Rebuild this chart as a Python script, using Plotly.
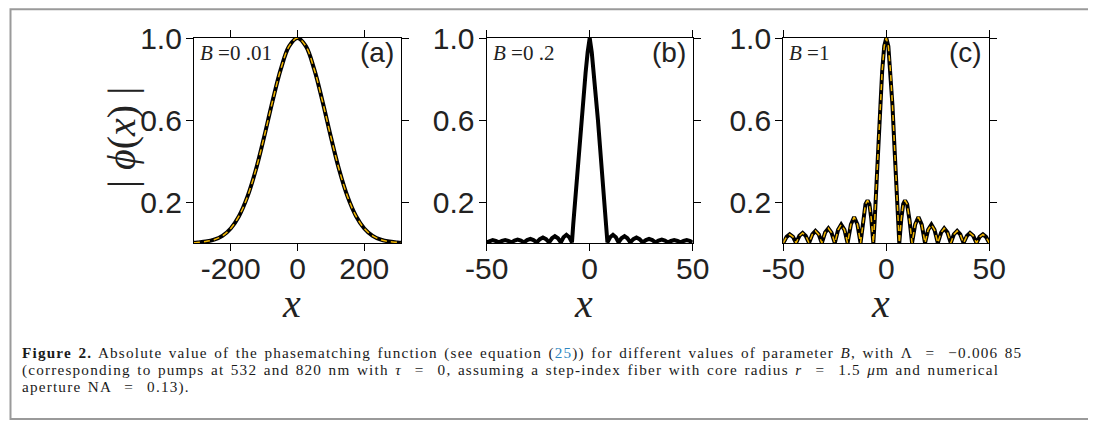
import plotly.graph_objects as go

# ---------------- data ----------------
# panel (a): B = 0.01
xa = [-310, -300, -275, -250, -225, -200, -175, -150, -125, -100, -75, -50, -25, 0,
      25, 50, 75, 100, 125, 150, 175, 200, 225, 250, 275, 300, 310]
ya = [0.001, 0.003, 0.007, 0.016, 0.035, 0.071, 0.132, 0.226, 0.356, 0.517, 0.690, 0.848, 0.960, 1.0,
      0.960, 0.848, 0.690, 0.517, 0.356, 0.226, 0.132, 0.071, 0.035, 0.016, 0.007, 0.003, 0.001]

# panel (b): B = 0.2
xb = [-50, -48.5, -47.1, -45.6, -44.1, -42.6, -41, -39.5, -38, -36.5, -35, -33.4, -31.9,
      -30.4, -28.8, -27.3, -25.7, -24.2, -22.7, -21.2, -19.7, -18.3, -16.9, -15.4, -14,
      -12.7, -11.3, -9.9, -8.6, -8, -7, -6, -5, -4, -3, -2, -1, 0,
      1, 2, 3, 4, 5, 6, 7, 8, 8.6, 9.9, 11.3, 12.7, 14, 15.4, 16.9, 18.3, 19.7,
      21.2, 22.7, 24.2, 25.7, 27.3, 28.8, 30.4, 31.9, 33.4, 35, 36.5, 38,
      39.5, 41, 42.6, 44.1, 45.6, 47.1, 48.5, 50]
yb = [0.003, 0.010, 0.014, 0.010, 0.003, 0.010, 0.014, 0.010, 0.003, 0.012, 0.017, 0.012, 0.003,
      0.014, 0.020, 0.014, 0.003, 0.019, 0.027, 0.019, 0.003, 0.023, 0.033, 0.023, 0.003,
      0.028, 0.040, 0.028, 0.003, 0.09, 0.22, 0.35, 0.47, 0.60, 0.72, 0.83, 0.93, 1.0,
      0.93, 0.83, 0.72, 0.60, 0.47, 0.35, 0.22, 0.09, 0.003, 0.028, 0.040, 0.028, 0.003, 0.023, 0.033, 0.023, 0.003,
      0.019, 0.027, 0.019, 0.003, 0.014, 0.020, 0.014, 0.003, 0.012, 0.017, 0.012, 0.003,
      0.010, 0.014, 0.010, 0.003, 0.010, 0.014, 0.010, 0.003]

# panel (c): B = 1
xc = [-50, -48.4, -46.9, -45.3, -43.8, -42.2, -40.6, -39.1, -37.5, -35.9, -34.4, -32.8, -31.3,
      -29.7, -28.1, -26.6, -25.0, -23.4, -21.9, -20.3, -18.8, -17.2, -15.6, -14.0, -12.5,
      -11.3, -10.1, -9.1, -8.2, -7.3, -6.3, -5.7, -5, -4, -3, -2, -1, 0,
      1, 2, 3, 4, 5, 5.7, 6.3, 7.3, 8.2, 9.1, 10.1, 11.3, 12.5,
      14.0, 15.6, 17.2, 18.8, 20.3, 21.9, 23.4, 25.0, 26.6, 28.1, 29.7, 31.3,
      32.8, 34.4, 35.9, 37.5, 39.1, 40.6, 42.2, 43.8, 45.3, 46.9, 48.4, 50]
yc = [0.0, 0.030, 0.042, 0.030, 0.0, 0.035, 0.049, 0.035, 0.0, 0.042, 0.059, 0.042, 0.0,
      0.051, 0.072, 0.051, 0.0, 0.064, 0.090, 0.064, 0.0, 0.090, 0.127, 0.090, 0.0,
      0.11, 0.19, 0.208, 0.19, 0.12, 0.0, 0.10, 0.24, 0.46, 0.67, 0.84, 0.96, 1.0,
      0.96, 0.84, 0.67, 0.46, 0.24, 0.10, 0.0, 0.12, 0.19, 0.208, 0.19, 0.11, 0.0,
      0.090, 0.127, 0.090, 0.0, 0.064, 0.090, 0.064, 0.0, 0.051, 0.072, 0.051, 0.0,
      0.042, 0.059, 0.042, 0.0, 0.035, 0.049, 0.035, 0.0, 0.030, 0.042, 0.030, 0.0]

b_labels = ["<i>B</i> =0 .01", "<i>B</i> =0 .2", "<i>B</i> =1"]
panel_tags = ["(a)", "(b)", "(c)"]
xa_ticks = [-200, 0, 200]
xbc_ticks = [-50, 0, 50]
y_ticks = [0.2, 0.6, 1.0]

# ---------------- layout helpers ----------------
# the page body has an 8px margin on every side; the figure is sized so the page
# does not overflow the window, and positions below are given in window pixels
OFF = 8
W, H = 1096 - 2 * OFF, 428 - 2 * OFF
def px(x):
    return (x - OFF) / W
def py(y):
    return 1 - (y - OFF) / H

BLACK = "#000000"
GOLD = "#f2b600"
TXT = "#222222"

fig = go.Figure()

panels = [
    dict(x=xa, y=ya, gold=True, dom=(194, 401), rng=[-310, 310], ticks=xa_ticks, shape="spline"),
    dict(x=xb, y=yb, gold=False, dom=(486.7, 692.7), rng=[-50, 50], ticks=xbc_ticks, shape="linear"),
    dict(x=xc, y=yc, gold=True, dom=(783.3, 989.3), rng=[-50, 50], ticks=xbc_ticks, shape="linear"),
]
ytop, ybot = 38, 243

layout = dict(
    template="none",
    width=W, height=H, autosize=False,
    margin=dict(l=0, r=0, t=0, b=0, pad=0),
    paper_bgcolor="white", plot_bgcolor="white",
    showlegend=False,
)

annotations = []
for i, p in enumerate(panels):
    sfx = "" if i == 0 else str(i + 1)
    xr = "x" + sfx
    yr = "y" + sfx
    fig.add_trace(go.Scatter(x=p["x"], y=p["y"], mode="lines",
                             line=dict(color=BLACK, width=4, shape=p["shape"]),
                             xaxis=xr, yaxis=yr, hoverinfo="skip"))
    if p["gold"]:
        fig.add_trace(go.Scatter(x=p["x"], y=p["y"], mode="lines",
                                 line=dict(color=GOLD, width=1.5, dash="6px,4px", shape=p["shape"]),
                                 xaxis=xr, yaxis=yr, hoverinfo="skip"))
    axcommon = dict(showline=True, linecolor=BLACK, linewidth=1.3, mirror="ticks",
                    ticks="outside", ticklen=7, tickwidth=1.3, tickcolor=BLACK,
                    showgrid=False, zeroline=False, automargin=False,
                    tickfont=dict(family="Liberation Sans, Arial, sans-serif", size=30, color=TXT))
    layout["xaxis" + sfx] = dict(domain=[px(p["dom"][0]), px(p["dom"][1])],
                                 range=p["rng"], anchor=yr,
                                 tickmode="array", tickvals=p["ticks"],
                                 ticktext=[str(t) for t in p["ticks"]],
                                 ticklabelstandoff=-8,
                                 **axcommon)
    layout["yaxis" + sfx] = dict(domain=[py(ybot), py(ytop)], range=[0, 1.0], anchor=xr,
                                 tickmode="array", tickvals=y_ticks,
                                 ticktext=["0.2", "0.6", "1.0"],
                                 ticklabelstandoff=-2, **axcommon)
    # B label
    annotations.append(dict(x=px(p["dom"][0] + 4), y=py(53), xref="paper", yref="paper",
                            xanchor="left", yanchor="middle", showarrow=False,
                            text=b_labels[i],
                            font=dict(family="Liberation Serif, serif", size=21, color=TXT)))
    # panel tag
    annotations.append(dict(x=px(p["dom"][1] - 5), y=py(53), xref="paper", yref="paper",
                            xanchor="right", yanchor="middle", showarrow=False,
                            text=panel_tags[i],
                            font=dict(family="Liberation Sans, Arial, sans-serif", size=28, color=TXT)))
    # x title
    cx = (p["dom"][0] + p["dom"][1]) / 2 - 6
    annotations.append(dict(x=px(cx), y=py(303), xref="paper", yref="paper",
                            xanchor="center", yanchor="middle", showarrow=False,
                            text="<i>x</i>",
                            font=dict(family="Liberation Serif, serif", size=40, color=TXT)))

# y title
annotations.append(dict(x=px(121), y=py(138), xref="paper", yref="paper",
                        xanchor="center", yanchor="middle", showarrow=False, textangle=-90,
                        text="| <i>ϕ</i>(<i>x</i>) |",
                        font=dict(family="Liberation Serif, serif", size=40, color=TXT)))

# caption
cap_font = dict(family="Liberation Serif, serif", size=15.2, color="#1a1a1a")
ls = "<span style='letter-spacing:1.2px; word-spacing:1.5px'>"
cap_lines = [
    ls + "<b>Figure 2.</b> Absolute value of the phasematching function (see equation (<span style='color:#2e86c1'>25</span>)) "
    "for different values of parameter <i>B</i>, with Λ  =  −0.006 85</span>",
    ls + "(corresponding to pumps at 532 and 820 nm with <i>τ</i>  =  0, assuming a step-index fiber with core radius "
    "<i>r</i>  =  1.5 <i>μ</i>m and numerical</span>",
    ls + "aperture NA  =  0.13).</span>",
]
for k, line in enumerate(cap_lines):
    annotations.append(dict(x=px(20), y=py(353 + 17.2 * k), xref="paper", yref="paper",
                            xanchor="left", yanchor="middle", showarrow=False,
                            text=line, font=cap_font))

layout["annotations"] = annotations
# outer frame: kept inside the drawable area so its top and bottom edges stay visible
layout["shapes"] = [dict(type="rect", xref="paper", yref="paper",
                         x0=px(10.5), x1=px(1160), y0=py(419), y1=py(9.2),
                         line=dict(color="#9a9a9a", width=2), fillcolor="rgba(0,0,0,0)")]

fig.update_layout(**layout)
fig.write_html("out.html")
